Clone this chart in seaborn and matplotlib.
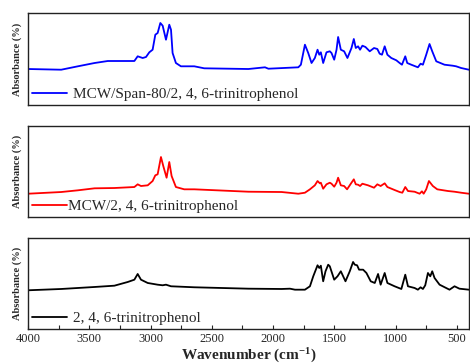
import numpy as np
import pandas as pd
import seaborn as sns
import matplotlib.pyplot as plt
from matplotlib.ticker import MultipleLocator

# wavenumber (cm-1) / absorbance (arb.)
wn_span = [4000, 3729, 3593, 3457, 3349, 3132, 3105, 3064, 3037, 3010, 2983, 2961, 2942, 2920,
           2901, 2874, 2847, 2833, 2820, 2793, 2752, 2643, 2562, 2201, 2066, 2038, 1794, 1773,
           1740, 1713, 1686, 1659, 1637, 1623, 1610, 1591, 1564, 1537, 1523, 1501, 1482, 1469,
           1447, 1420, 1393, 1360, 1341, 1325, 1306, 1290, 1271, 1246, 1211, 1176, 1149, 1130,
           1111, 1089, 1067, 1035, 994, 967, 948, 921, 905, 872, 818, 796, 777, 750, 723, 701,
           668, 601, 533, 506, 465, 402]
ab_span = [36.0, 35.3, 38.7, 42.0, 44.0, 44.0, 48.7, 47.0, 48.0, 52.7, 55.3, 70.3, 72.0, 82.0,
           79.3, 65.3, 80.3, 75.3, 52.0, 42.0, 38.7, 38.7, 36.7, 36.0, 37.7, 36.3, 37.7, 40.3,
           60.3, 52.0, 42.0, 47.0, 55.3, 50.3, 52.7, 42.0, 52.7, 53.7, 52.0, 45.3, 55.3, 68.0,
           55.3, 53.7, 47.0, 57.0, 66.0, 57.0, 58.7, 55.3, 59.3, 58.0, 53.7, 57.0, 56.0, 51.3,
           50.3, 58.7, 50.3, 47.0, 44.7, 42.0, 40.3, 48.7, 42.0, 40.3, 37.7, 41.3, 40.3, 50.3,
           61.0, 53.7, 43.7, 40.3, 39.3, 38.7, 37.0, 35.3]

wn_mcw = [4000, 3729, 3593, 3457, 3295, 3132, 3105, 3078, 3023, 2983, 2961, 2942, 2915, 2896,
          2869, 2847, 2828, 2793, 2725, 2643, 2201, 1930, 1794, 1740, 1699, 1659, 1637, 1618,
          1610, 1591, 1564, 1537, 1523, 1501, 1482, 1469, 1447, 1420, 1396, 1360, 1341, 1325,
          1306, 1290, 1271, 1225, 1176, 1149, 1122, 1089, 1067, 1008, 967, 945, 921, 899, 845,
          804, 785, 771, 750, 728, 696, 660, 573, 519, 465, 402]
ab_mcw = [23.3, 25.0, 26.7, 28.7, 29.0, 30.0, 32.7, 31.0, 31.7, 36.0, 41.7, 42.7, 60.0, 51.0,
          39.3, 55.0, 41.0, 30.0, 27.7, 27.7, 25.3, 25.0, 23.3, 24.3, 27.7, 31.7, 36.0, 33.7,
          34.3, 28.3, 32.7, 34.3, 33.3, 30.3, 34.3, 39.3, 31.7, 31.0, 27.7, 34.3, 37.7, 32.7,
          32.3, 31.0, 33.3, 31.7, 29.3, 32.7, 31.0, 33.7, 30.0, 27.0, 25.0, 24.3, 30.0, 26.0,
          25.3, 23.3, 25.7, 23.3, 27.7, 36.0, 31.0, 27.7, 26.0, 25.3, 24.3, 23.3]

wn_tnp = [4000, 3729, 3457, 3295, 3186, 3132, 3105, 3078, 3023, 2942, 2901, 2874, 2833, 2643,
          2201, 1930, 1862, 1821, 1740, 1699, 1672, 1637, 1623, 1610, 1591, 1572, 1550, 1537,
          1501, 1474, 1447, 1428, 1409, 1374, 1347, 1333, 1314, 1298, 1265, 1238, 1203, 1170,
          1143, 1122, 1089, 1067, 1008, 953, 921, 899, 845, 818, 796, 777, 758, 736, 717, 701,
          682, 641, 560, 519, 479, 402]
ab_tnp = [38.7, 40.0, 42.0, 43.3, 47.0, 49.3, 55.0, 49.3, 46.0, 44.3, 43.7, 44.3, 42.7, 41.7,
          40.3, 40.0, 40.3, 39.3, 39.3, 42.7, 52.7, 63.7, 61.0, 63.3, 47.7, 57.7, 64.3, 62.7,
          49.3, 52.7, 57.7, 52.7, 47.7, 57.7, 67.0, 64.3, 63.7, 59.3, 59.3, 56.0, 47.7, 46.0,
          55.0, 44.3, 56.0, 46.0, 42.7, 40.0, 54.3, 42.7, 41.0, 39.3, 41.7, 40.0, 43.7, 56.0,
          52.7, 57.7, 51.0, 44.3, 39.3, 42.7, 40.3, 39.3]

labels = ['MCW/Span-80/2, 4, 6-trinitrophenol', 'MCW/2, 4, 6-trinitrophenol',
          '2, 4, 6-trinitrophenol']
colors = ['#0000ff', '#ff0000', '#000000']
ylims = [92, 91, 91]

sns.set_style('white')
plt.rcParams['font.family'] = ['Liberation Serif', 'DejaVu Serif']
plt.rcParams['mathtext.fontset'] = 'custom'
plt.rcParams['mathtext.rm'] = 'Liberation Serif:bold'
plt.rcParams['mathtext.default'] = 'rm'

series = [(wn_span, ab_span), (wn_mcw, ab_mcw), (wn_tnp, ab_tnp)]

fig = plt.figure(figsize=(4.7, 3.64), dpi=100)
boxes = [[0.0596, 0.7115, 0.9385, 0.2528],
         [0.0596, 0.4038, 0.9385, 0.2500],
         [0.0596, 0.0962, 0.9385, 0.2500]]

for i, ((wn, ab), lab, col) in enumerate(zip(series, labels, colors)):
    ax = fig.add_axes(boxes[i])
    df = pd.DataFrame({'wn': wn, 'ab': ab})
    sns.lineplot(data=df, x='wn', y='ab', color=col, lw=1.3, label=lab, ax=ax,
                 sort=False, estimator=None)
    ax.set_xlim(4000, 400)
    ax.set_ylim(0, ylims[i])
    ax.set_yticks([])
    ax.set_ylabel('Absorbance (%)', fontsize=7.5, fontweight='bold', labelpad=4)
    for s in ax.spines.values():
        s.set_color('#222222')
        s.set_linewidth(1.0)
    leg = ax.legend(loc='lower left', frameon=False, fontsize=11, handlelength=2.3,
                    handletextpad=0.4 if i != 1 else 0.05, borderaxespad=0.05,
                    borderpad=0.2)
    if i < 2:
        ax.set_xticks([])
        ax.set_xlabel('')
    else:
        ax.xaxis.set_major_locator(MultipleLocator(500))
        ax.xaxis.set_minor_locator(MultipleLocator(250))
        ax.tick_params(axis='x', which='both', direction='in', bottom=True, top=False,
                       length=3, width=0.8, labelsize=9, pad=3)
        ax.set_xticks(range(4000, 400, -500))
        ax.set_xlabel('Wavenumber (cm$^{-1}$)', fontsize=11, fontweight='bold', labelpad=1)

fig.savefig('out.png', dpi=100)
